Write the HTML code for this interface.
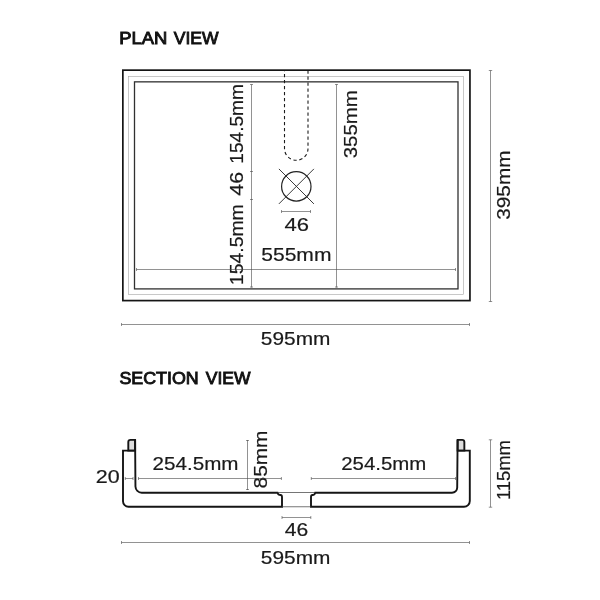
<!DOCTYPE html>
<html><head><meta charset="utf-8"><title>Plan and Section View</title>
<style>
html,body{margin:0;padding:0;background:#fff;}
svg{display:block;}
text{font-family:"Liberation Sans",sans-serif;fill:#1a1a1a;}
.h{font-size:16.1px;stroke:#111;stroke-width:0.85;fill:#111;}
.d{font-size:17.8px;stroke:#1a1a1a;stroke-width:0.2;}
.thin{stroke:#484848;stroke-width:0.6;fill:none;}
.thk{stroke:#151515;stroke-width:1.9;fill:none;stroke-linejoin:miter;}
</style></head><body>
<svg width="600" height="600" viewBox="0 0 600 600" style="will-change:transform">
<!-- headings -->

<!-- PLAN -->
<rect x="122.85" y="70.15" width="347.1" height="230.45" fill="none" stroke="#151515" stroke-width="1.7"/>
<rect x="128.5" y="76.5" width="335" height="218" fill="none" stroke="#a4a4a4" stroke-width="0.6"/>
<rect x="134.5" y="81.85" width="323.5" height="207.05" fill="none" stroke="#303030" stroke-width="1.3"/>
<!-- slot dashed -->
<path d="M284.5 71 V148.55 A11.75 11.75 0 0 0 308 148.55 V71" fill="none" stroke="#1c1c1c" stroke-width="1.1" stroke-dasharray="3.3 2.7" stroke-dashoffset="2.95"/>
<!-- drain -->
<circle cx="296.3" cy="186.4" r="14.7" fill="none" stroke="#222" stroke-width="1.2"/>
<path d="M278.9 168.9 L313.9 203.9 M313.9 168.9 L278.9 203.9" fill="none" stroke="#303030" stroke-width="0.95"/>
<!-- 46 under drain -->
<path d="M281.5 211.5 H310.5 M281.5 210 V213 M310.5 210 V213" class="thin"/>
<text class="h" x="119.27" y="44.2" textLength="48.11" lengthAdjust="spacingAndGlyphs">PLAN</text>
<text class="h" x="173.75" y="44.2" textLength="44.75" lengthAdjust="spacingAndGlyphs">VIEW</text>
<text class="h" x="119.48" y="384.0" textLength="79.21" lengthAdjust="spacingAndGlyphs">SECTION</text>
<text class="h" x="205.75" y="384.0" textLength="44.67" lengthAdjust="spacingAndGlyphs">VIEW</text>
<text class="d" x="284.54" y="231.3" textLength="24.52" lengthAdjust="spacingAndGlyphs">46</text>
<text class="d" transform="translate(243.2 163.72) rotate(-90)" textLength="79.70" lengthAdjust="spacingAndGlyphs">154.5mm</text>
<text class="d" transform="translate(243.2 195.71) rotate(-90)" textLength="23.73" lengthAdjust="spacingAndGlyphs">46</text>
<text class="d" transform="translate(243.2 285.02) rotate(-90)" textLength="80.70" lengthAdjust="spacingAndGlyphs">154.5mm</text>
<text class="d" transform="translate(356.6 158.36) rotate(-90)" textLength="68.17" lengthAdjust="spacingAndGlyphs">355mm</text>
<text class="d" x="261.29" y="260.6" textLength="70.14" lengthAdjust="spacingAndGlyphs">555mm</text>
<text class="d" transform="translate(510.2 219.71) rotate(-90)" textLength="69.17" lengthAdjust="spacingAndGlyphs">395mm</text>
<text class="d" x="260.88" y="344.6" textLength="69.47" lengthAdjust="spacingAndGlyphs">595mm</text>
<text class="d" x="95.86" y="483.3" textLength="23.91" lengthAdjust="spacingAndGlyphs">20</text>
<text class="d" x="152.58" y="469.7" textLength="85.92" lengthAdjust="spacingAndGlyphs">254.5mm</text>
<text class="d" x="341.20" y="469.7" textLength="85.08" lengthAdjust="spacingAndGlyphs">254.5mm</text>
<text class="d" transform="translate(266.8 488.44) rotate(-90)" textLength="57.86" lengthAdjust="spacingAndGlyphs">85mm</text>
<text class="d" transform="translate(509.6 500.02) rotate(-90)" textLength="59.95" lengthAdjust="spacingAndGlyphs">115mm</text>
<text class="d" x="284.88" y="536.3" textLength="23.45" lengthAdjust="spacingAndGlyphs">46</text>
<text class="d" x="260.88" y="563.6" textLength="69.47" lengthAdjust="spacingAndGlyphs">595mm</text>
<!-- vertical dims -->
<path d="M251.5 84.5 V287.5 M250 84.5 H253 M250 171.5 H253 M250 199.5 H253 M250 287 H253" class="thin"/>
<path d="M336.5 84.5 V287.5 M335 84.5 H338 M335 287 H338" class="thin"/>
<path d="M136.5 269.5 H455.5 M136.5 268 V271 M455.5 268 V271" class="thin"/>
<!-- 395 -->
<path d="M490.5 70.5 V301.5 M488.8 70.5 H492.2 M488.8 301.5 H492.2" class="thin"/>
<!-- 595 -->
<path d="M121.5 324.5 H469.5 M121.5 323 V326 M469.5 323 V326" class="thin"/>

<!-- SECTION -->
<!-- tabs -->
<path d="M128.3 450.6 V442.1 Q128.3 439.9 130.5 439.9 H135.1 V450.6 Z" fill="#ddd" class="thk" style="fill:#ddd"/>
<path d="M464.35 450.6 V442.1 Q464.35 439.9 462.15 439.9 H457.6 V450.6 Z" fill="#ddd" class="thk" style="fill:#ddd"/>
<!-- left body -->
<path d="M135.2 450.6 H123 V501.3 A5.5 5.5 0 0 0 128.5 506.8 H282 V497 C282 495.5 281.5 495 280.5 495 C279 495 278 494.5 277.5 492.7 H141.7 A6.3 6.3 0 0 1 135.45 486.55 L135.1 439.9" class="thk"/>
<!-- right body -->
<path d="M457.5 450.6 H469.8 V501 A5.8 5.8 0 0 1 463.95 506.8 H311 V497 C311 495.5 311.5 495 312.5 495 C314 495 315 494.5 315.3 492.7 H452 A5.2 5.2 0 0 0 457.2 487.65 L457.6 439.9" class="thk"/>
<path d="M277.5 492.5 H315.3 M282 506.75 H311" fill="none" stroke="#3a3a3a" stroke-width="0.7"/>
<!-- dims -->
<path d="M125.3 478.5 H133 M125.3 477 V480 M133 477 V480" class="thin"/>
<path d="M138.5 478.5 H281.4 M138.5 477 V480 M281.4 477 V480" class="thin"/>
<path d="M311.3 478.5 H455.5 M311.3 477 V480 M455.5 477 V480" class="thin"/>
<path d="M247.5 440 V490 M246 440.5 H249 M246 489.5 H249" class="thin"/>
<path d="M282 517.5 H310.8 M282 516 V519 M310.8 516 V519" class="thin"/>
<path d="M490.5 439.8 V507.2 M488.8 439.8 H492.2 M488.8 507.2 H492.2" class="thin"/>
<path d="M121.5 542.5 H469.5 M121.5 541 V544 M469.5 541 V544" class="thin"/>
</svg>
</body></html>
